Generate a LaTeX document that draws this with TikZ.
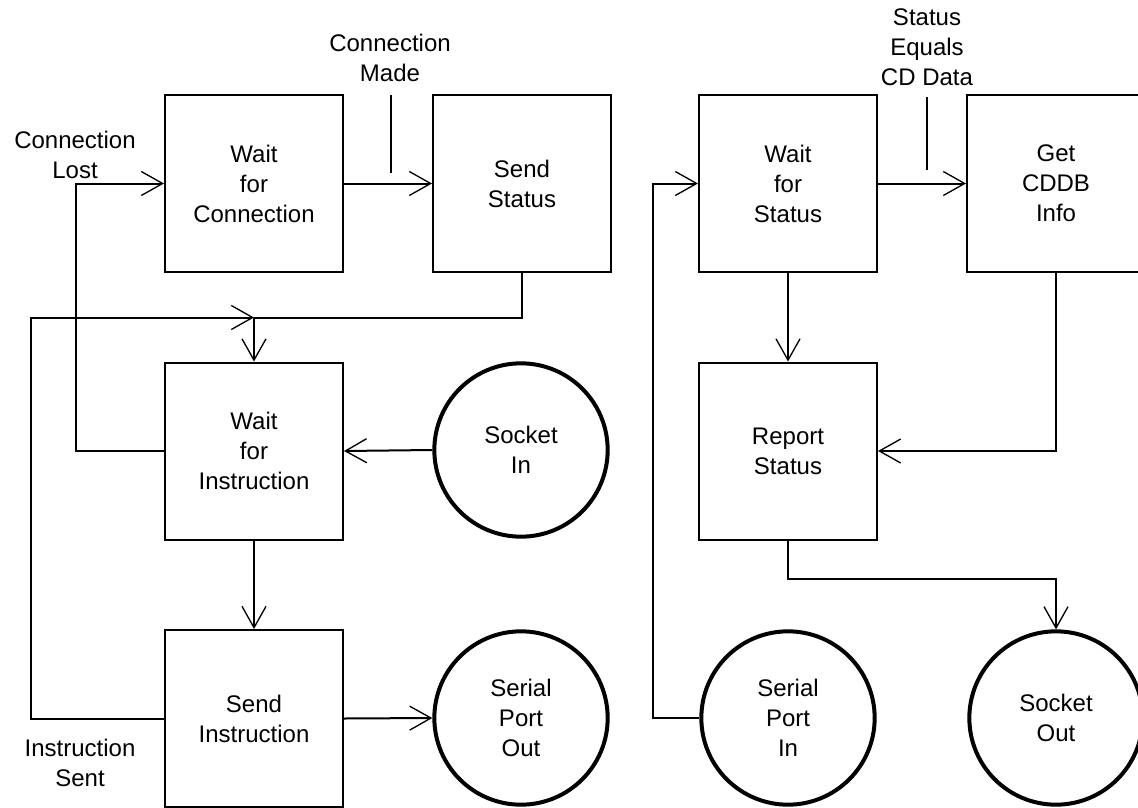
\documentclass[tikz,border=0pt]{standalone}
\usepackage{fontspec}
\setmainfont{Liberation Sans}
\usepackage{tikz}
\usetikzlibrary{arrows.meta}

\tikzset{
  state/.style={draw, line width=1.5pt, minimum width=133.5pt, minimum height=132.75pt, inner sep=0pt, align=center},
  port/.style={draw, circle, line width=3pt, minimum size=130pt, inner sep=0pt, align=center},
  flow/.style={line width=1.5pt, -{Straight Barb[length=16pt,width=18pt,line width=1pt]}},
  link/.style={line width=1.5pt},
  note/.style={inner sep=0pt, align=center},
  every node/.style={font=\fontsize{18pt}{22.5pt}\selectfont}
}

\begin{document}
\begin{tikzpicture}[x=0.75pt,y=0.75pt,yscale=-1,xscale=1]
    \useasboundingbox (0,0) rectangle (1138,807);
    \fill [white] (0,0) rectangle (1138,807);
    \clip (0,0) rectangle (1138,807);

    %Shape: Square [id:wfc] 
    \node [state] (wfc) at (254,183.5) {Wait\\for\\Connection};
    %Shape: Square [id:ss] 
    \node [state] (ss) at (522,183.5) {Send\\Status};
    %Shape: Square [id:wfi] 
    \node [state] (wfi) at (254,451) {Wait\\for\\Instruction};
    %Shape: Square [id:si] 
    \node [state] (si) at (254,718.5) {Send\\Instruction};
    %Shape: Circle [id:sin] 
    \node [port] (sin) at (521,450) {Socket\\In};
    %Shape: Circle [id:spo] 
    \node [port] (spo) at (521,718) {Serial\\Port\\Out};

    %Shape: Square [id:wfs] 
    \node [state] (wfs) at (788,183.5) {Wait\\for\\Status};
    %Shape: Square [id:cddb] 
    \node [state] (cddb) at (1056,183.5) {Get\\CDDB\\Info};
    %Shape: Square [id:rs] 
    \node [state] (rs) at (788,451) {Report\\Status};
    %Shape: Circle [id:spi] 
    \node [port] (spi) at (788,718) {Serial\\Port\\In};
    %Shape: Circle [id:sout] 
    \node [port] (sout) at (1056,718) {Socket\\Out};

    %Straight Lines [id:made] 
    \draw [flow] (wfc.east) -- (ss.west);
    %Straight Lines [id:lost] 
    \draw [flow] (wfi.west) -- ++(-88,0) |- (wfc.west);
    %Straight Lines [id:back] 
    \path (wfi.north) ++(0,-44) coordinate (jn);
    \draw [link] (ss.south) |- (jn);
    \draw [flow] (si.west) -- ++(-133,0) |- (jn);
    \draw [flow] (jn) -- (wfi.north);
    %Straight Lines [id:sockin] 
    \draw [flow] (sin.west) -- (wfi.east);
    %Straight Lines [id:next] 
    \draw [flow] (wfi.south) -- (si.north);
    %Straight Lines [id:serout] 
    \draw [flow] (si.east) -- (spo.west);

    %Straight Lines [id:equals] 
    \draw [flow] (wfs.east) -- (cddb.west);
    %Straight Lines [id:report] 
    \draw [flow] (wfs.south) -- (rs.north);
    %Straight Lines [id:info] 
    \draw [flow] (cddb.south) |- (rs.east);
    %Straight Lines [id:sockout] 
    \draw [flow] (rs.south) -- ++(0,38) -| (sout.north);
    %Straight Lines [id:serin] 
    \draw [flow] (spi.west) -- ++(-46,0) |- (wfs.west);

    %Straight Lines [id:tick1] 
    \coordinate (t1a) at (391,95);
    \coordinate (t1b) at (391,173);
    \draw [link] (t1a) -- (t1b);
    %Straight Lines [id:tick2] 
    \coordinate (t2a) at (927,97);
    \coordinate (t2b) at (927,170);
    \draw [link] (t2a) -- (t2b);

    % Text Node
    \node [note] (lblmade) at (390,58) {Connection\\Made};
    % Text Node
    \node [note] (lbllost) at (75,155) {Connection\\Lost};
    % Text Node
    \node [note] (lblsent) at (80,763) {Instruction\\Sent};
    % Text Node
    \node [note] (lblcd) at (927,47) {Status\\Equals\\CD Data};

\end{tikzpicture}
\end{document}
